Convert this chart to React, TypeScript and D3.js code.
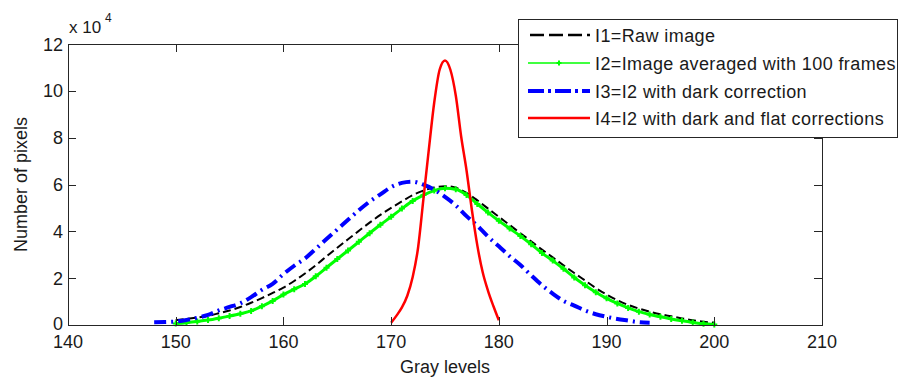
import React from "react";
import * as d3 from "d3";

// Gray-level grids (x values) for each curve
const I1_GRAY = d3.range(150, 201);
const I1_VALUES = [
  0.21, 0.26, 0.32, 0.39, 0.5, 0.62, 0.77, 0.95, 1.15, 1.37,
  1.6, 1.88, 2.2, 2.55, 2.93, 3.3, 3.66, 4.02, 4.37, 4.7,
  5.0, 5.28, 5.55, 5.74, 5.87, 5.93, 5.86, 5.64, 5.32, 4.97,
  4.62, 4.27, 3.92, 3.57, 3.22, 2.89, 2.55, 2.22, 1.9, 1.58,
  1.3, 1.06, 0.86, 0.7, 0.57, 0.46, 0.37, 0.28, 0.2, 0.14, 0.1,
];

const I2_GRAY = d3.range(150, 201);
const I2_VALUES = [
  0.06, 0.1, 0.15, 0.21, 0.29, 0.38, 0.48, 0.6, 0.8, 1.03,
  1.3, 1.53, 1.75, 2.08, 2.45, 2.82, 3.18, 3.55, 3.92, 4.28,
  4.62, 4.97, 5.3, 5.55, 5.74, 5.84, 5.8, 5.55, 5.17, 4.8,
  4.45, 4.12, 3.8, 3.45, 3.07, 2.75, 2.4, 2.03, 1.7, 1.4,
  1.14, 0.92, 0.73, 0.57, 0.45, 0.35, 0.26, 0.18, 0.11, 0.05, 0.02,
];

const I3_GRAY = d3.range(148, 195);
const I3_VALUES = [
  0.12, 0.13, 0.15, 0.21, 0.31, 0.43, 0.62, 0.77, 0.93, 1.19,
  1.5, 1.76, 2.17, 2.53, 2.84, 3.25, 3.67, 4.08, 4.49, 4.9,
  5.27, 5.58, 5.89, 6.07, 6.12, 5.99, 5.78, 5.47, 5.11, 4.65,
  4.24, 3.77, 3.36, 2.94, 2.56, 2.12, 1.7, 1.34, 1.03, 0.83,
  0.62, 0.46, 0.35, 0.26, 0.19, 0.12, 0.1,
];

const I4_GRAY = [
  170, 170.5, 171, 171.5, 172, 172.5, 173, 173.5, 174, 174.5, 175,
  175.5, 176, 176.5, 177, 177.5, 178, 178.5, 179, 179.5, 180,
];
const I4_VALUES = [
  0.1, 0.4, 0.75, 1.25, 2.05, 3.3, 5.4, 7.5, 9.5, 10.9, 11.3,
  10.9, 9.8, 8.05, 6.6, 4.9, 3.4, 2.25, 1.45, 0.8, 0.2,
];

const X_TICKS = [140, 150, 160, 170, 180, 190, 200, 210];
const Y_TICKS = [0, 2, 4, 6, 8, 10, 12];

const LEGEND_LABELS = [
  "I1=Raw image",
  "I2=Image averaged with 100 frames",
  "I3=I2 with dark correction",
  "I4=I2 with dark and flat corrections",
];

const W = 898;
const H = 378;
const PL = 68;
const PR = 822;
const PT = 44;
const PB = 325;

const FONT = "'Liberation Sans', Arial, sans-serif";
const AXIS_COLOR = "#262626";
const TEXT_COLOR = "#1a1a1a";

export default function App() {
  const x = d3.scaleLinear().domain([140, 210]).range([PL, PR]);
  const y = d3.scaleLinear().domain([0, 12]).range([PB, PT]);

  const mk = (gx: number[], vals: number[]) =>
    gx.map((g, i) => [g, vals[i]] as [number, number]);

  const line = d3
    .line<[number, number]>()
    .x((d) => x(d[0]))
    .y((d) => y(d[1]))
    .curve(d3.curveMonotoneX);

  const d1 = mk(I1_GRAY, I1_VALUES);
  const d2 = mk(I2_GRAY, I2_VALUES);
  const d3s = mk(I3_GRAY, I3_VALUES);
  const d4 = mk(I4_GRAY, I4_VALUES);

  const tick = 8;
  const crisp = (v: number) => Math.round(v) + 0.5;

  const legX = 518;
  const legY = 19;
  const legW = 379;
  const legH = 118;
  const rowY = [35, 63, 91, 118];
  const sx0 = 528;
  const sx1 = 590;

  const crossPath = (cx: number, cy: number, s: number) =>
    `M${cx - s},${cy}H${cx + s}M${cx},${cy - s}V${cy + s}`;

  return (
    <svg
      width={W}
      height={H}
      style={{ position: "absolute", left: 0, top: 0, background: "#fff" }}
      fontFamily={FONT}
    >
      <rect x={0} y={0} width={W} height={H} fill="#fff" />

      {/* curves */}
      <g fill="none">
        <path
          d={line(d1) || ""}
          stroke="#000"
          strokeWidth={2}
          strokeDasharray="8,4"
        />
        <path d={line(d2) || ""} stroke="#00ff00" strokeWidth={3} />
        <g stroke="#00ff00" strokeWidth={2}>
          {d2.map((d, i) => (
            <path key={i} d={crossPath(x(d[0]), y(d[1]), 3)} />
          ))}
        </g>
        <path
          d={line(d3s) || ""}
          stroke="#0000ff"
          strokeWidth={4}
          strokeDasharray="12,5,2,5"
        />
        <path d={line(d4) || ""} stroke="#ff0000" strokeWidth={2.5} />
      </g>

      {/* frame */}
      <rect
        x={crisp(PL)}
        y={crisp(PT)}
        width={Math.round(PR) - Math.round(PL)}
        height={Math.round(PB) - Math.round(PT)}
        fill="none"
        stroke={AXIS_COLOR}
        strokeWidth={1}
      />

      {/* x ticks */}
      {X_TICKS.map((t) => (
        <g key={"x" + t}>
          <line
            x1={crisp(x(t))}
            x2={crisp(x(t))}
            y1={PB}
            y2={PB - tick}
            stroke={AXIS_COLOR}
          />
          <line
            x1={crisp(x(t))}
            x2={crisp(x(t))}
            y1={PT}
            y2={PT + tick}
            stroke={AXIS_COLOR}
          />
          <text
            x={x(t)}
            y={348}
            fontSize={18}
            textAnchor="middle"
            fill={TEXT_COLOR}
          >
            {t}
          </text>
        </g>
      ))}

      {/* y ticks */}
      {Y_TICKS.map((t) => (
        <g key={"y" + t}>
          <line
            x1={PL}
            x2={PL + tick}
            y1={crisp(y(t))}
            y2={crisp(y(t))}
            stroke={AXIS_COLOR}
          />
          <line
            x1={PR}
            x2={PR - tick}
            y1={crisp(y(t))}
            y2={crisp(y(t))}
            stroke={AXIS_COLOR}
          />
          <text
            x={63}
            y={y(t) + (t === 0 ? 4.5 : 6.5)}
            fontSize={18}
            textAnchor="end"
            fill={TEXT_COLOR}
          >
            {t}
          </text>
        </g>
      ))}

      {/* exponent */}
      <text x={69} y={33} fontSize={17} fill={TEXT_COLOR}>
        x 10
      </text>
      <text x={105} y={22} fontSize={12} fill={TEXT_COLOR}>
        4
      </text>

      {/* axis labels */}
      <text
        x={(PL + PR) / 2}
        y={373}
        fontSize={18}
        textAnchor="middle"
        fill={TEXT_COLOR}
      >
        Gray levels
      </text>
      <text
        transform={`translate(27,${(PT + PB) / 2}) rotate(-90)`}
        fontSize={18}
        textAnchor="middle"
        fill={TEXT_COLOR}
      >
        Number of pixels
      </text>

      {/* legend */}
      <rect
        x={legX + 0.5}
        y={legY + 0.5}
        width={legW}
        height={legH}
        fill="#fff"
        stroke={AXIS_COLOR}
        strokeWidth={1}
      />
      <g fill="none">
        <line
          x1={sx0 + 2}
          x2={sx1}
          y1={rowY[0]}
          y2={rowY[0]}
          stroke="#000"
          strokeWidth={2.5}
          strokeDasharray="14,5"
        />
        <line
          x1={sx0}
          x2={sx1}
          y1={rowY[1]}
          y2={rowY[1]}
          stroke="#00ff00"
          strokeWidth={1.5}
        />
        <path
          d={crossPath((sx0 + sx1) / 2, rowY[1], 2.5)}
          stroke="#00ff00"
          strokeWidth={2}
        />
        <line
          x1={sx0}
          x2={sx1}
          y1={rowY[2]}
          y2={rowY[2]}
          stroke="#0000ff"
          strokeWidth={4}
          strokeDasharray="16,4,3,4"
        />
        <line
          x1={sx0}
          x2={sx1}
          y1={rowY[3]}
          y2={rowY[3]}
          stroke="#ff0000"
          strokeWidth={2.5}
        />
      </g>
      {LEGEND_LABELS.map((l, i) => (
        <text
          key={l}
          x={595}
          y={rowY[i] + 6.5}
          fontSize={18}
          letterSpacing={0.4}
          fill={TEXT_COLOR}
        >
          {l}
        </text>
      ))}
    </svg>
  );
}
